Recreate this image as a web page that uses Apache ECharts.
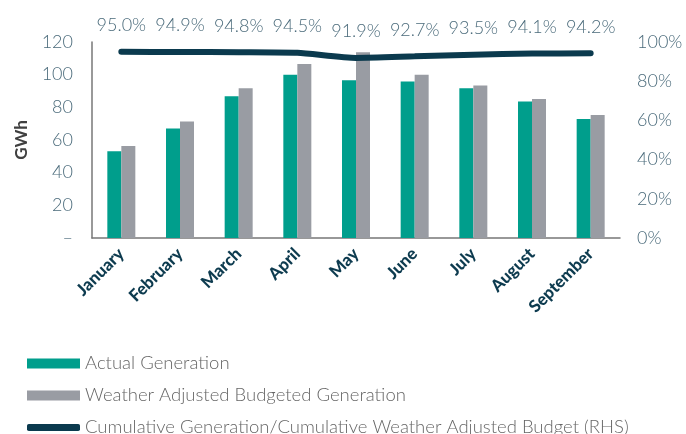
<!DOCTYPE html>
<html>
<head>
<meta charset="utf-8">
<script src="https://cdn.jsdelivr.net/npm/echarts@6/dist/echarts.min.js"></script>
<style>
html, body { margin: 0; padding: 0; background: #fff; }
#chart { width: 686px; height: 434px; }
</style>
</head>
<body>
<div id="chart"></div>
<script>
var months = ['January', 'February', 'March', 'April', 'May', 'June', 'July', 'August', 'September'];
var actualGen = [53.1, 67.1, 86.8, 99.9, 96.6, 95.8, 91.7, 83.5, 72.8];
var budgetGen = [56.4, 71.4, 91.7, 106.5, 113.8, 99.9, 93.3, 85.1, 75.3];
var cumRatio = [95.0, 94.9, 94.8, 94.5, 91.9, 92.7, 93.5, 94.1, 94.2];

var names = ['Actual Generation', 'Weather Adjusted Budgeted Generation', 'Cumulative Generation/Cumulative Weather Adjusted Budget (RHS)'];

var chart = echarts.init(document.getElementById('chart'));

// one legend per row, so the list doesn't wrap into columns at the bottom edge
function legendRow(name, top, icon, h) {
	return {
		data: [{ name: name, icon: icon }],
		left: 27,
		top: top,
		padding: 0,
		itemWidth: 53,
		itemHeight: h,
		itemGap: 0,
		textStyle: { fontSize: 18.5, color: '#666', fontWeight: 300, padding: [0, 0, 0, 0] }
	};
}

var option = {
	backgroundColor: '#fff',
	textStyle: { fontFamily: 'Lato' },
	grid: { left: 92, right: 66, top: 42, bottom: 196 },
	legend: [
		legendRow(names[0], 354, 'rect', 10),
		legendRow(names[1], 386, 'rect', 10),
		legendRow(names[2], 418, 'roundRect', 7)
	],
	xAxis: {
		type: 'category',
		data: months,
		axisTick: { show: false },
		axisLine: { lineStyle: { color: '#777', width: 1.5 } },
		axisLabel: {
			rotate: 45,
			interval: 0,
			fontSize: 17,
			fontWeight: 900,
			color: '#0d3b4f',
			margin: 13
		}
	},
	yAxis: [{
		type: 'value',
		min: 0,
		max: 120,
		interval: 20,
		name: 'GWh',
		nameLocation: 'middle',
		nameGap: 62,
		nameTextStyle: { fontSize: 17, fontWeight: 'bold', color: '#404040' },
		axisLine: { show: true, lineStyle: { color: '#777', width: 1.5 } },
		axisTick: { show: false },
		splitLine: { show: false },
		axisLabel: {
			fontSize: 18,
			fontWeight: 300,
			color: '#4b6b7b',
			margin: 19,
			formatter: function(v) { return v === 0 ? '–' : v; }
		}
	}, {
		type: 'value',
		min: 0,
		max: 100,
		interval: 20,
		axisLine: { show: false },
		axisTick: { show: false },
		splitLine: { show: false },
		axisLabel: { fontSize: 18, fontWeight: 300, color: '#4b6b7b', margin: 17, formatter: '{value}%' }
	}],
	series: [{
		name: names[0],
		type: 'bar',
		data: actualGen,
		barWidth: 14,
		barGap: '0%',
		itemStyle: { color: '#009e8c' }
	}, {
		name: names[1],
		type: 'bar',
		data: budgetGen,
		barWidth: 14,
		itemStyle: { color: '#999ca3' }
	}, {
		name: names[2],
		type: 'line',
		yAxisIndex: 1,
		data: cumRatio,
		smooth: 0.2,
		symbol: 'circle',
		symbolSize: 1,
		showSymbol: true,
		itemStyle: { color: '#0b3a4e' },
		lineStyle: { color: '#0b3a4e', width: 6, cap: 'round' },
		label: {
			show: true,
			position: 'top',
			distance: 17,
			fontSize: 18,
			fontWeight: 300,
			color: '#4b6b7b',
			formatter: function(p) { return p.value.toFixed(1) + '%'; }
		}
	}]
};

chart.setOption(option);
</script>
</body>
</html>
